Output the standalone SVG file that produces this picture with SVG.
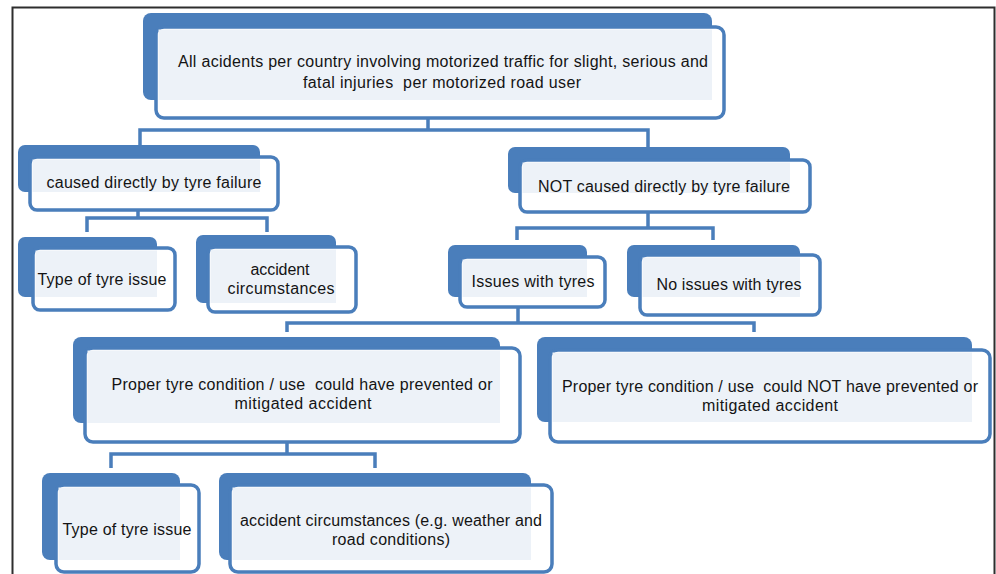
<svg xmlns="http://www.w3.org/2000/svg" width="996" height="574" viewBox="0 0 996 574">
<style>
.back{fill:#4a7ebb}
.front{fill:#ffffff;stroke:#4a7ebb;stroke-width:3.5}
.light{fill:#edf2f8}
.t{font-family:"Liberation Sans",Arial,sans-serif;font-size:16px;fill:#141414;text-anchor:middle;white-space:pre}
.c{fill:none;stroke:#4a7ebb;stroke-width:3.5;stroke-linejoin:miter}
.frame{fill:none;stroke:#2e2e2e;stroke-width:2}
</style>
<rect x="0" y="0" width="996" height="574" fill="#ffffff"/>
<path class="frame" d="M12.5,575 V7.5 H994.5 V575"/>
<g id="connectors">
<path class="c" d="M428,118 V130 M140,145 V130 H648 V147"/>
<path class="c" d="M138,210 V218 M87,232 V218 H267 V232"/>
<path class="c" d="M648,212 V228 M517,240 V228 H713 V240"/>
<path class="c" d="M518,307 V323 M287,332 V323 H754 V332"/>
<path class="c" d="M287,442 V454 M111,468 V454 H375 V468"/>
</g>
<g id="n-top">
<rect class="back" x="143" y="13" width="569" height="87" rx="8"/>
<rect class="front" x="156" y="27" width="568" height="91" rx="8"/>
<rect class="light" x="158.5" y="29.5" width="553.5" height="70.5"/>
<text class="t" x="443" y="67" textLength="530">All acidents per country involving motorized traffic for slight, serious and</text>
<text class="t" x="442" y="88" textLength="278">fatal injuries  per motorized road user</text>
</g>
<g id="n-caused">
<rect class="back" x="18" y="145" width="242" height="47" rx="7"/>
<rect class="front" x="30" y="157" width="248" height="53" rx="7"/>
<rect class="light" x="32.5" y="159.5" width="227.5" height="32.5"/>
<text class="t" x="154" y="188" textLength="215">caused directly by tyre failure</text>
</g>
<g id="n-type1">
<rect class="back" x="18" y="237" width="139" height="60" rx="7"/>
<rect class="front" x="33" y="248" width="142" height="62" rx="7"/>
<rect class="light" x="35.5" y="250.5" width="121.5" height="46.5"/>
<text class="t" x="102" y="285" textLength="129">Type of tyre issue</text>
</g>
<g id="n-acc1">
<rect class="back" x="196" y="235" width="140" height="68" rx="7"/>
<rect class="front" x="208" y="247" width="148" height="65" rx="7"/>
<rect class="light" x="210.5" y="249.5" width="125.5" height="53.5"/>
<text class="t" x="280" y="275" textLength="59">accident</text>
<text class="t" x="281" y="294" textLength="107">circumstances</text>
</g>
<g id="n-not">
<rect class="back" x="508" y="147" width="282" height="46" rx="7"/>
<rect class="front" x="520" y="160" width="290" height="52" rx="7"/>
<rect class="light" x="522.5" y="162.5" width="267.5" height="30.5"/>
<text class="t" x="664" y="192" textLength="252">NOT caused directly by tyre failure</text>
</g>
<g id="n-issues">
<rect class="back" x="448" y="245" width="139" height="52" rx="7"/>
<rect class="front" x="460" y="257" width="145" height="50" rx="7"/>
<rect class="light" x="462.5" y="259.5" width="124.5" height="37.5"/>
<text class="t" x="533" y="287" textLength="123">Issues with tyres</text>
</g>
<g id="n-noissues">
<rect class="back" x="627" y="245" width="173" height="52" rx="7"/>
<rect class="front" x="640" y="255" width="180" height="60" rx="7"/>
<rect class="light" x="642.5" y="257.5" width="157.5" height="39.5"/>
<text class="t" x="729" y="290" textLength="145">No issues with tyres</text>
</g>
<g id="n-could">
<rect class="back" x="73" y="337" width="427" height="86" rx="8"/>
<rect class="front" x="85" y="348" width="435" height="94" rx="8"/>
<rect class="light" x="87.5" y="350.5" width="412.5" height="72.5"/>
<text class="t" x="302" y="390" textLength="381">Proper tyre condition / use  could have prevented or</text>
<text class="t" x="303" y="409" textLength="137">mitigated accident</text>
</g>
<g id="n-couldnot">
<rect class="back" x="537" y="337" width="435" height="85" rx="8"/>
<rect class="front" x="550" y="350" width="440" height="92" rx="8"/>
<rect class="light" x="552.5" y="352.5" width="419.5" height="69.5"/>
<text class="t" x="770" y="392" textLength="416">Proper tyre condition / use  could NOT have prevented or</text>
<text class="t" x="770" y="411" textLength="136">mitigated accident</text>
</g>
<g id="n-type2">
<rect class="back" x="42" y="473" width="138" height="87" rx="8"/>
<rect class="front" x="56" y="485" width="143" height="87" rx="8"/>
<rect class="light" x="58.5" y="487.5" width="121.5" height="72.5"/>
<text class="t" x="127" y="535" textLength="129">Type of tyre issue</text>
</g>
<g id="n-acc2">
<rect class="back" x="219" y="473" width="312" height="87" rx="8"/>
<rect class="front" x="230" y="485" width="322" height="87" rx="8"/>
<rect class="light" x="232.5" y="487.5" width="298.5" height="72.5"/>
<text class="t" x="391" y="526" textLength="302">accident circumstances (e.g. weather and</text>
<text class="t" x="391" y="545" textLength="118">road conditions)</text>
</g>
</svg>
